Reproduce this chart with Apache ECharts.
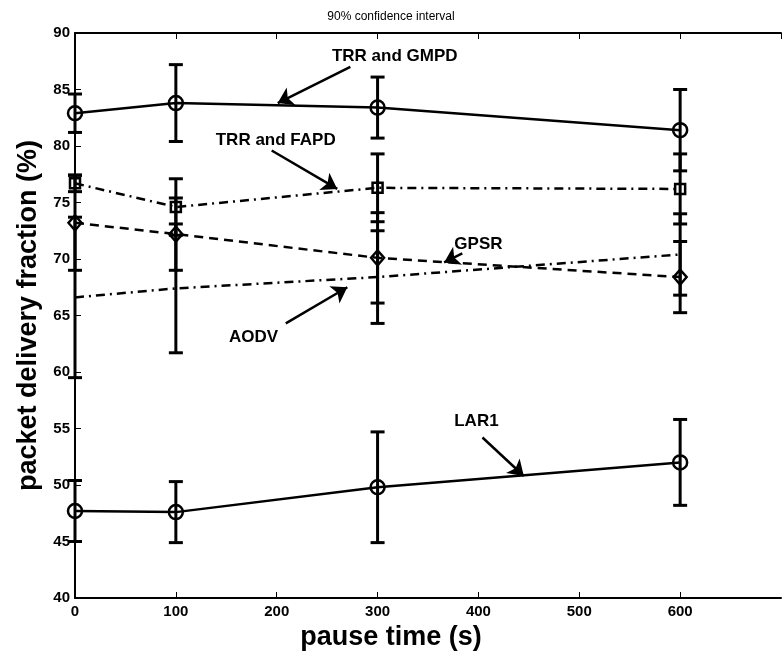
<!DOCTYPE html>
<html>
<head>
<meta charset="utf-8">
<script src="https://cdn.jsdelivr.net/npm/echarts@6/dist/echarts.min.js"></script>
<style>
  html, body { margin: 0; padding: 0; background: #fff; }
  #chart { width: 782px; height: 656px; }
</style>
</head>
<body>
<div id="chart"></div>
<script>
// pause time (s)
var pauseTime = [0, 100, 300, 600];

// packet delivery fraction (%) and 90% confidence half-widths
var gmpd = [82.9, 83.8, 83.4, 81.4];
var gmpdErr = [1.7, 3.4, 2.7, 3.6];
var fapd = [76.7, 74.6, 76.3, 76.2];
var fapdErr = [0.74, 2.5, 3.0, 3.1];
var gpsr = [73.2, 72.2, 70.1, 68.4];
var gpsrErr = [4.2, 3.2, 4.0, 3.15];
var aodv = [66.6, 67.4, 68.4, 70.4];
var aodvErr = [7.1, 5.7, 4.1, 3.6];
var lar1 = [47.7, 47.6, 49.8, 52.0];
var lar1Err = [2.7, 2.7, 4.9, 3.8];

// text annotations [x, y, text] and arrows [x1, y1, x2, y2] in data units
var labelPos = [
  [317, 87.9, 'TRR and GMPD'],
  [199, 80.5, 'TRR and FAPD'],
  [400, 71.3, 'GPSR'],
  [177, 63.1, 'AODV'],
  [398, 55.6, 'LAR1']
];
var arrowPos = [
  [273, 87.0, 201, 83.8],
  [195, 79.6, 260, 76.2],
  [384, 70.5, 366, 69.7],
  [209, 64.3, 270, 67.5],
  [404, 54.2, 445, 50.8]
];

var font = "'Liberation Sans', Arial, sans-serif";

function pairs(ys) {
  return ys.map(function (v, i) { return [pauseTime[i], v]; });
}

var errData = [];
[[gmpd, gmpdErr], [fapd, fapdErr], [gpsr, gpsrErr], [aodv, aodvErr], [lar1, lar1Err]].forEach(function (s) {
  s[0].forEach(function (v, i) {
    errData.push([pauseTime[i], v - s[1][i], v + s[1][i]]);
  });
});

function lineSeries(name, ys, symbol, size, dash) {
  return {
    name: name,
    type: 'line',
    data: pairs(ys),
    symbol: symbol,
    symbolSize: size,
    showSymbol: symbol !== 'none',
    lineStyle: { color: '#000', width: 2.5, type: dash },
    itemStyle: { color: 'transparent', borderColor: '#000', borderWidth: 2.5 },
    z: 3
  };
}

var chart = echarts.init(document.getElementById('chart'));

var axisCommon = {
  type: 'value',
  min: 0,
  max: 700,
  interval: 100,
  axisLine: { lineStyle: { color: '#000', width: 2 } },
  axisTick: { inside: true, length: 6, lineStyle: { color: '#000', width: 1 } },
  splitLine: { show: false }
};

var option = {
  backgroundColor: '#fff',
  animation: false,
  title: {
    text: '90% confidence interval',
    left: 'center',
    top: 6,
    textStyle: { fontFamily: font, fontSize: 12, fontWeight: 'normal', color: '#000' }
  },
  graphic: [{
    type: 'text',
    left: 'center',
    top: 624,
    style: { text: 'pause time (s)', font: 'bold 27px ' + font, fill: '#000' }
  }],
  grid: { left: 75, right: 1, top: 33, bottom: 58 },
  xAxis: [
    Object.assign({}, axisCommon, {
      position: 'bottom',
      axisLabel: {
        showMaxLabel: false,
        margin: 6,
        fontFamily: font, fontSize: 15, fontWeight: 'bold', color: '#000'
      }
    }),
    Object.assign({}, axisCommon, {
      position: 'top',
      axisLabel: { show: false }
    })
  ],
  yAxis: {
    type: 'value',
    min: 40,
    max: 90,
    interval: 5,
    name: 'packet delivery fraction (%)',
    nameLocation: 'middle',
    nameGap: 32,
    nameTextStyle: { fontFamily: font, fontSize: 27, fontWeight: 'bold', color: '#000' },
    axisLine: { show: true, lineStyle: { color: '#000', width: 2 } },
    axisTick: { show: true, inside: true, length: 6, lineStyle: { color: '#000', width: 1 } },
    axisLabel: { margin: 5, fontFamily: font, fontSize: 15, fontWeight: 'bold', color: '#000' },
    splitLine: { show: false }
  },
  series: [
    {
      type: 'custom',
      data: errData,
      encode: { x: 0, y: [1, 2] },
      z: 2,
      renderItem: function (params, api) {
        var x = api.value(0);
        var top = api.coord([x, api.value(2)]);
        var bot = api.coord([x, api.value(1)]);
        var w = 7;
        var st = { stroke: '#000', lineWidth: 3 };
        return {
          type: 'group',
          children: [
            { type: 'line', shape: { x1: top[0], y1: top[1], x2: bot[0], y2: bot[1] }, style: st },
            { type: 'line', shape: { x1: top[0] - w, y1: top[1], x2: top[0] + w, y2: top[1] }, style: st },
            { type: 'line', shape: { x1: bot[0] - w, y1: bot[1], x2: bot[0] + w, y2: bot[1] }, style: st }
          ]
        };
      }
    },
    lineSeries('TRR and GMPD', gmpd, 'circle', 14, 'solid'),
    lineSeries('TRR and FAPD', fapd, 'rect', 10, [9, 5, 2, 5]),
    lineSeries('GPSR', gpsr, 'diamond', [13, 15], [9, 6]),
    lineSeries('AODV', aodv, 'none', 0, [9, 5, 2, 5]),
    lineSeries('LAR1', lar1, 'circle', 14, 'solid'),
    {
      type: 'lines',
      coordinateSystem: 'cartesian2d',
      symbol: ['none', 'arrow'],
      symbolSize: 15,
      lineStyle: { color: '#000', width: 2.5, opacity: 1 },
      z: 5,
      data: arrowPos.map(function (a) {
        return { coords: [[a[0], a[1]], [a[2], a[3]]] };
      })
    },
    {
      type: 'scatter',
      symbolSize: 1,
      itemStyle: { color: 'transparent', opacity: 1 },
      z: 6,
      label: {
        show: true,
        position: 'inside',
        formatter: function (p) { return p.data[2]; },
        fontFamily: font,
        fontSize: 17,
        fontWeight: 'bold',
        color: '#000',
        opacity: 1
      },
      data: labelPos
    }
  ]
};

chart.setOption(option);
</script>
</body>
</html>
